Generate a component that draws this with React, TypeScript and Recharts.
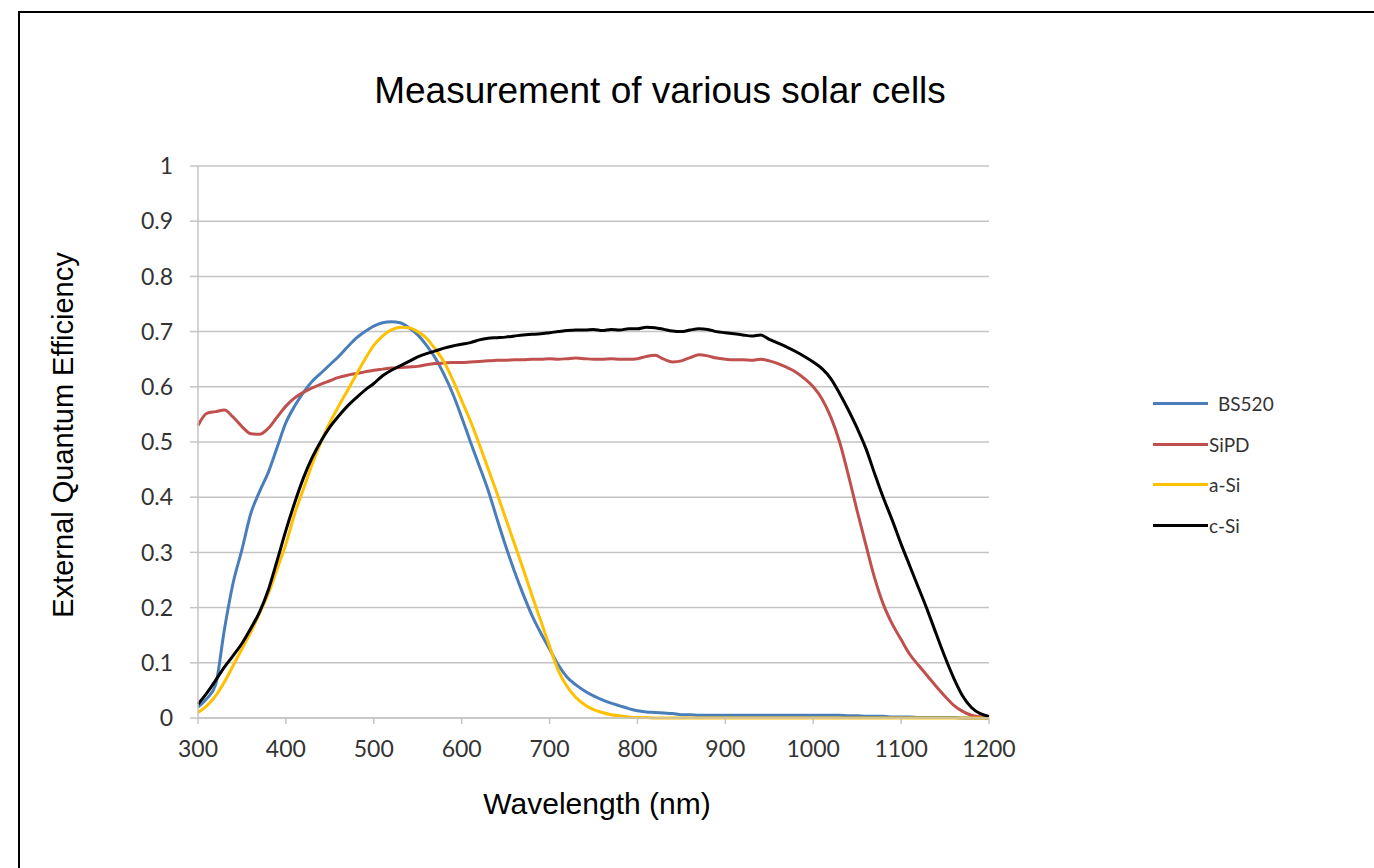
import React from 'react';
import { LineChart, Line, XAxis, YAxis, CartesianGrid, Legend } from 'recharts';

// wavelength in nm, 10 nm steps
const wavelength = [
  300, 310, 320, 330, 340, 350, 360, 370, 380, 390,
  400, 410, 420, 430, 440, 450, 460, 470, 480, 490,
  500, 510, 520, 530, 540, 550, 560, 570, 580, 590,
  600, 610, 620, 630, 640, 650, 660, 670, 680, 690,
  700, 710, 720, 730, 740, 750, 760, 770, 780, 790,
  800, 810, 820, 830, 840, 850, 860, 870, 880, 890,
  900, 910, 920, 930, 940, 950, 960, 970, 980, 990,
  1000, 1010, 1020, 1030, 1040, 1050, 1060, 1070, 1080, 1090,
  1100, 1110, 1120, 1130, 1140, 1150, 1160, 1170, 1180, 1190,
  1200
];

const bs520 = [
  0.02, 0.035, 0.06, 0.16, 0.245, 0.305, 0.37, 0.41, 0.445, 0.49,
  0.535, 0.565, 0.59, 0.61, 0.625, 0.64, 0.655, 0.672, 0.688, 0.7,
  0.71, 0.716, 0.718, 0.716, 0.707, 0.694, 0.675, 0.652, 0.622, 0.587,
  0.545, 0.5, 0.457, 0.413, 0.362, 0.312, 0.266, 0.224, 0.186, 0.154,
  0.125, 0.096, 0.074, 0.06, 0.049, 0.04, 0.033, 0.027, 0.022, 0.017,
  0.013, 0.011, 0.01, 0.009, 0.008, 0.006, 0.006, 0.005, 0.005, 0.005,
  0.005, 0.005, 0.005, 0.005, 0.005, 0.005, 0.005, 0.005, 0.005, 0.005,
  0.005, 0.005, 0.005, 0.005, 0.004, 0.004, 0.003, 0.003, 0.003, 0.002,
  0.002, 0.002, 0.001, 0.001, 0.001, 0.001, 0.001, 0, 0, 0,
  0
];

const sipd = [
  0.53, 0.552, 0.555, 0.558, 0.545, 0.528, 0.515, 0.514, 0.525, 0.545,
  0.565, 0.58, 0.59, 0.598, 0.605, 0.611, 0.617, 0.621, 0.624, 0.627,
  0.63, 0.632, 0.634, 0.635, 0.636, 0.637, 0.64, 0.642, 0.643, 0.644,
  0.644, 0.645, 0.646, 0.647, 0.648, 0.648, 0.649, 0.649, 0.65, 0.65,
  0.651, 0.65, 0.651, 0.652, 0.651, 0.65, 0.65, 0.651, 0.65, 0.65,
  0.651, 0.655, 0.657, 0.65, 0.645, 0.647, 0.653, 0.658, 0.656, 0.652,
  0.65, 0.649, 0.649, 0.648, 0.65, 0.647, 0.642, 0.635, 0.627, 0.615,
  0.6, 0.578, 0.545, 0.5, 0.44, 0.375, 0.313, 0.253, 0.205, 0.17,
  0.142, 0.115, 0.095, 0.076, 0.057, 0.039, 0.023, 0.012, 0.005, 0.002,
  0
];

const aSi = [
  0.01, 0.022, 0.04, 0.065, 0.095, 0.125, 0.155, 0.19, 0.225, 0.27,
  0.315, 0.37, 0.415, 0.46, 0.5, 0.535, 0.565, 0.593, 0.622, 0.65,
  0.675, 0.692, 0.703, 0.708, 0.707, 0.7, 0.688, 0.668, 0.645, 0.612,
  0.575, 0.538, 0.496, 0.452, 0.408, 0.362, 0.316, 0.27, 0.222, 0.176,
  0.13, 0.086, 0.057, 0.037, 0.024, 0.015, 0.01, 0.006, 0.004, 0.002,
  0.001, 0.001, 0, 0, 0, 0, 0, 0, 0, 0,
  0, 0, 0, 0, 0, 0, 0, 0, 0, 0,
  0, 0, 0, 0, 0, 0, 0, 0, 0, 0,
  0, 0, 0, 0, 0, 0, 0, 0, 0, 0,
  0
];

const cSi = [
  0.025, 0.045, 0.068, 0.092, 0.113, 0.135, 0.162, 0.192, 0.232, 0.285,
  0.34, 0.39, 0.435, 0.472, 0.502, 0.527, 0.547, 0.565, 0.58, 0.594,
  0.606, 0.62, 0.63, 0.638, 0.646, 0.654, 0.66, 0.665, 0.67, 0.674,
  0.677, 0.68, 0.685, 0.688, 0.689, 0.69, 0.692, 0.694, 0.695, 0.696,
  0.698, 0.7, 0.702, 0.703, 0.703, 0.704, 0.702, 0.704, 0.703, 0.705,
  0.705, 0.708, 0.707, 0.704, 0.701, 0.7, 0.703, 0.705, 0.704, 0.7,
  0.698, 0.696, 0.694, 0.692, 0.694, 0.686, 0.679, 0.672, 0.664, 0.655,
  0.645, 0.633, 0.615, 0.588, 0.558, 0.525, 0.488, 0.442, 0.398, 0.358,
  0.315, 0.275, 0.235, 0.195, 0.152, 0.11, 0.072, 0.04, 0.019, 0.008,
  0.003
];

const xTicks = [300, 400, 500, 600, 700, 800, 900, 1000, 1100, 1200];
const yTicks = [0, 0.1, 0.2, 0.3, 0.4, 0.5, 0.6, 0.7, 0.8, 0.9, 1];

const series = [
  { key: 'bs520', name: 'BS520', color: '#4a7ebb' },
  { key: 'sipd', name: 'SiPD', color: '#c0504d' },
  { key: 'aSi', name: 'a-Si', color: '#ffc000' },
  { key: 'cSi', name: 'c-Si', color: '#000000' }
];

const data = wavelength.map((wl, i) => ({
  wl,
  bs520: bs520[i],
  sipd: sipd[i],
  aSi: aSi[i],
  cSi: cSi[i]
}));

const tickStyle = { fill: '#333333', fontSize: 23, fontFamily: 'Lato' };
const axisGrey = '#c4c4c4';

const renderLegend = (props: any) => {
  const { payload = [] } = props;
  return (
    <div>
      {payload.map((entry: any, i: number) => (
        <div
          key={entry.value}
          style={{ display: 'flex', alignItems: 'center', height: 40.7 }}
        >
          <span
            style={{
              display: 'inline-block',
              width: 55,
              height: 3,
              background: entry.color
            }}
          />
          <span
            style={{
              marginLeft: i === 0 ? 10 : 1,
              fontFamily: 'Lato',
              fontSize: 19,
              color: '#333333'
            }}
          >
            {entry.value}
          </span>
        </div>
      ))}
    </div>
  );
};

const App = () => (
  <div
    style={{
      position: 'fixed',
      left: 0,
      top: 0,
      width: 1374,
      height: 868,
      overflow: 'hidden',
      background: '#ffffff'
    }}
  >
    <div
      style={{
        position: 'absolute',
        left: 18,
        top: 11,
        width: 1400,
        height: 900,
        borderLeft: '2px solid #000',
        borderTop: '2px solid #000'
      }}
    />
    <div
      style={{
        position: 'absolute',
        left: 0,
        width: 1320,
        top: 72,
        textAlign: 'center',
        fontFamily: 'Liberation Sans',
        fontSize: 37,
        lineHeight: 1,
        whiteSpace: 'nowrap'
      }}
    >
      Measurement of various solar cells
    </div>
    <div
      style={{
        position: 'absolute',
        left: 63,
        top: 435,
        transform: 'translate(-50%, -50%) rotate(-90deg)',
        fontFamily: 'Liberation Sans',
        fontSize: 29,
        lineHeight: 1,
        whiteSpace: 'nowrap'
      }}
    >
      External Quantum Efficiency
    </div>
    <div
      style={{
        position: 'absolute',
        left: 0,
        width: 1194,
        top: 789,
        textAlign: 'center',
        fontFamily: 'Liberation Sans',
        fontSize: 30,
        lineHeight: 1,
        whiteSpace: 'nowrap'
      }}
    >
      Wavelength (nm)
    </div>
    <div style={{ position: 'absolute', left: 0, top: 0 }}>
      <LineChart
        width={1374}
        height={868}
        data={data}
        margin={{ top: 166, right: 385, bottom: 0, left: 0 }}
      >
        <CartesianGrid
          vertical={false}
          stroke={axisGrey}
          strokeWidth={1.5}
        />
        <XAxis
          dataKey="wl"
          type="number"
          domain={[300, 1200]}
          ticks={xTicks}
          height={150}
          stroke={axisGrey}
          strokeWidth={1.5}
          tickSize={6}
          tickMargin={17}
          tick={tickStyle}
        />
        <YAxis
          type="number"
          domain={[0, 1]}
          ticks={yTicks}
          width={198}
          stroke={axisGrey}
          strokeWidth={1.5}
          tickSize={8}
          tickMargin={17}
          tick={tickStyle}
        />
        {series.map((s) => (
          <Line
            key={s.key}
            type="monotone"
            dataKey={s.key}
            name={s.name}
            stroke={s.color}
            strokeWidth={3}
            dot={false}
            activeDot={false}
            isAnimationActive={false}
          />
        ))}
        <Legend
          layout="vertical"
          align="center"
          verticalAlign="middle"
          wrapperStyle={{ left: 1153, top: 383 }}
          content={renderLegend}
        />
      </LineChart>
    </div>
  </div>
);

export default App;
